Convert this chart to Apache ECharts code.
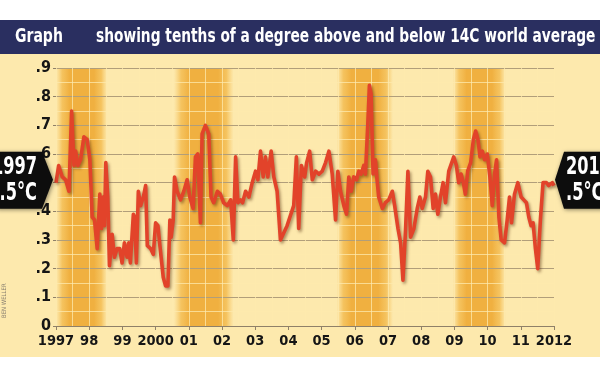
<!DOCTYPE html>
<html><head><meta charset="utf-8">
<script src="https://cdn.jsdelivr.net/npm/echarts/dist/echarts.min.js"></script>
<style>html,body{margin:0;padding:0;background:#fff}#c{width:600px;height:374px}</style>
</head><body><div id="c"></div>
<script>
const titleLead = 'Graph';
const titleText = 'showing tenths of a degree above and below 14C world average';
const startLabel = ['1997', '.5°C'];
const endLabel = ['2012', '.5°C'];
const credit = 'BEN WELLER';
const xTickLabels = ['1997','98','99','2000','01','02','03','04','05','06','07','08','09','10','11','2012'];
const yTickLabels = ['0','.1','.2','.3','.4','.5','.6','.7','.8','.9'];
const bands = [[1996.95, 1998.55], [2000.55, 2002.35], [2005.45, 2007.15], [2008.95, 2010.55]];
const years = [
1997.00,1997.08,1997.19,1997.29,1997.39,1997.47,1997.54,1997.59,1997.66,1997.74,
1997.84,1997.94,1998.02,1998.09,1998.16,1998.24,1998.32,1998.37,1998.42,1998.46,
1998.50,1998.56,1998.61,1998.69,1998.76,1998.84,1998.92,1998.99,1999.06,1999.14,
1999.19,1999.24,1999.33,1999.37,1999.42,1999.48,1999.55,1999.63,1999.70,1999.75,
1999.85,1999.93,2000.00,2000.07,2000.13,2000.23,2000.30,2000.37,2000.43,2000.47,
2000.53,2000.57,2000.65,2000.75,2000.85,2000.95,2001.03,
2001.13,2001.20,2001.27,2001.35,2001.40,2001.50,2001.60,2001.67,2001.75,2001.86,
2001.95,2002.05,2002.16,2002.26,2002.34,2002.41,2002.48,2002.56,2002.62,2002.71,
2002.81,2002.91,2003.01,2003.08,2003.16,2003.24,2003.31,2003.38,2003.48,2003.56,
2003.66,2003.76,2003.96,2004.16,2004.24,2004.31,2004.39,2004.49,2004.55,2004.64,
2004.72,2004.82,2004.92,2005.02,2005.12,2005.22,
2005.32,2005.42,2005.49,2005.57,2005.67,2005.75,2005.82,2005.89,2005.97,2006.05,
2006.12,2006.19,2006.27,2006.32,2006.39,2006.44,2006.49,2006.55,2006.62,2006.67,
2006.72,2006.83,2006.92,2007.02,2007.13,2007.20,2007.30,2007.38,2007.45,2007.53,
2007.60,2007.68,2007.78,2007.88,2007.96,2008.03,2008.13,2008.20,2008.28,2008.36,
2008.43,2008.50,2008.58,2008.66,2008.73,2008.83,
2008.88,2008.98,2009.06,2009.13,2009.20,2009.27,2009.33,2009.40,2009.49,2009.57,
2009.64,2009.71,2009.77,2009.84,2009.91,2009.99,2010.07,2010.14,2010.21,2010.27,
2010.34,2010.41,2010.51,2010.59,2010.66,2010.72,2010.81,2010.91,2011.01,2011.09,
2011.17,2011.24,2011.31,2011.37,2011.44,2011.51,2011.59,2011.67,2011.77,2011.84,
2011.95,2012.00
];
const values = [
0.50,0.56,0.52,0.51,0.47,0.75,0.56,0.61,0.56,0.58,
0.66,0.65,0.58,0.38,0.37,0.27,0.46,0.34,0.45,0.35,
0.57,0.45,0.21,0.32,0.24,0.27,0.27,0.22,0.29,0.24,
0.29,0.22,0.39,0.38,0.22,0.47,0.42,0.45,0.49,0.28,
0.27,0.25,0.36,0.35,0.28,0.17,0.14,0.14,0.37,0.31,
0.37,0.52,0.47,0.44,0.47,0.51,0.45,
0.41,0.59,0.60,0.36,0.67,0.70,0.67,0.45,0.43,0.47,
0.46,0.43,0.42,0.44,0.30,0.59,0.43,0.44,0.43,0.47,
0.45,0.50,0.54,0.51,0.61,0.52,0.59,0.52,0.61,0.52,
0.47,0.30,0.35,0.42,0.59,0.34,0.56,0.52,0.57,0.61,
0.51,0.54,0.53,0.54,0.57,0.61,
0.53,0.37,0.54,0.47,0.42,0.39,0.52,0.47,0.52,0.51,
0.54,0.53,0.56,0.53,0.70,0.84,0.81,0.53,0.58,0.51,
0.45,0.41,0.43,0.44,0.47,0.42,0.34,0.29,0.16,0.34,
0.54,0.31,0.34,0.41,0.45,0.41,0.45,0.54,0.52,0.41,
0.46,0.39,0.45,0.50,0.43,0.54,
0.54,0.59,0.56,0.50,0.53,0.50,0.46,0.54,0.57,0.65,
0.68,0.65,0.59,0.61,0.58,0.60,0.52,0.42,0.53,0.58,
0.38,0.30,0.29,0.37,0.45,0.36,0.46,0.50,0.45,0.44,
0.43,0.38,0.35,0.36,0.27,0.20,0.37,0.50,0.50,0.49,
0.50,0.49
];

const FONT = "'Liberation Sans Narrow','DejaVu Sans Condensed','Liberation Sans',Arial,sans-serif";
const chart = echarts.init(document.getElementById('c'), null, {renderer: 'canvas'});
const lineData = years.map((y, i) => [y, values[i]]);
const bandGrad = {
  type: 'linear', x: 0, y: 0, x2: 1, y2: 0,
  colorStops: [
    {offset: 0, color: 'rgba(246,196,95,0)'},
    {offset: 0.12, color: 'rgba(243,186,76,0.8)'},
    {offset: 0.26, color: '#f0b040'},
    {offset: 0.74, color: '#f0b040'},
    {offset: 0.88, color: 'rgba(243,186,76,0.8)'},
    {offset: 1, color: 'rgba(246,196,95,0)'}
  ]
};
const lightLine = {color: 'rgba(253,233,173,0.75)', width: 1, type: 'solid'};
chart.setOption({
  backgroundColor: '#ffffff',
  animation: false,
  grid: {left: 56, right: 46, top: 68, bottom: 48, containLabel: false, outerBoundsMode: 'none'},
  xAxis: {
    type: 'value', min: 1997, max: 2012, interval: 1, z: 0,
    axisLine: {show: true, lineStyle: {color: '#8f8068', width: 1, type: 'solid'}},
    axisTick: {show: true, length: 4, lineStyle: {color: '#8f8068', type: 'solid'}},
    axisLabel: {
      margin: 8, color: '#151515', fontSize: 14.5, fontWeight: 'bold', fontFamily: FONT,
      formatter: v => xTickLabels[Math.round(v - 1997)]
    },
    splitLine: {show: true, lineStyle: lightLine},
    minorTick: {show: false, splitNumber: 2},
    minorSplitLine: {show: true, lineStyle: lightLine}
  },
  yAxis: {
    type: 'value', min: 0, max: 0.9, interval: 0.1, z: 0,
    axisLine: {show: false},
    axisTick: {show: true, length: 3, lineStyle: {color: '#8f8068', type: 'solid'}},
    axisLabel: {
      margin: 5, color: '#151515', fontSize: 16, fontWeight: 'bold', fontFamily: FONT,
      formatter: v => yTickLabels[Math.round(v * 10)]
    },
    splitLine: {show: true, lineStyle: {color: '#b19e7a', width: 1, type: 'solid'}},
    minorTick: {show: false, splitNumber: 2},
    minorSplitLine: {show: true, lineStyle: lightLine}
  },
  series: [
    {
      type: 'line', z: -2, silent: true, data: lineData, showSymbol: false,
      lineStyle: {opacity: 0},
      markArea: {
        z: -2,
        silent: true,
        itemStyle: {color: bandGrad},
        data: bands.map(b => [{xAxis: b[0], yAxis: 0}, {xAxis: b[1], yAxis: 0.9}])
      }
    },
    {
      type: 'line', z: 3, data: lineData, showSymbol: false, symbol: 'none',
      lineStyle: {
        color: '#e2432a', width: 3.6, join: 'round', type: 'solid',
        shadowColor: 'rgba(70,30,0,0.45)', shadowBlur: 3, shadowOffsetX: 1.5, shadowOffsetY: 2
      }
    }
  ]
});

const p0 = chart.convertToPixel({gridIndex: 0}, [1997, 0.5]);
const p1 = chart.convertToPixel({gridIndex: 0}, [2012, 0.5]);
const ty0 = p0[1] - 3, ty1 = p1[1] - 3;
const tipL = p0[0] - 3, tipR = p1[0] + 1;
function label(text, x, y, align) {
  return {type: 'text', z: 13, silent: true, x: x, y: y, scaleX: 0.72,
    style: {text: text, x: 0, y: 0, fill: '#fff', font: 'bold 25px ' + FONT, align: align, verticalAlign: 'middle'}};
}
chart.setOption({
  graphic: [
    {type: 'rect', z: -10, silent: true, shape: {x: 0, y: 53, width: 600, height: 304}, style: {fill: '#fde9ad'}},
    {type: 'rect', z: 10, silent: true, shape: {x: 0, y: 20, width: 600, height: 34}, style: {fill: '#2a2f60'}},
    {type: 'text', z: 11, silent: true, x: 15, y: 37, scaleX: 0.82,
      style: {text: titleLead, x: 0, y: 0, fill: '#ffffff', font: 'bold 19px ' + FONT, verticalAlign: 'middle'}},
    {type: 'text', z: 11, silent: true, x: 96, y: 37, scaleX: 0.805,
      style: {text: titleText, x: 0, y: 0, fill: '#ffffff', font: 'bold 19px ' + FONT, verticalAlign: 'middle'}},
    {type: 'polygon', z: 12, silent: true,
      shape: {points: [[-4, ty0 - 28], [tipL - 11, ty0 - 28], [tipL, ty0], [tipL - 11, ty0 + 29], [-4, ty0 + 29]]},
      style: {fill: '#0d0d0d', shadowColor: 'rgba(0,0,0,0.45)', shadowBlur: 4, shadowOffsetX: 1, shadowOffsetY: 1}},
    label(startLabel[0], 37, ty0 - 12, 'right'),
    label(startLabel[1], 37, ty0 + 14, 'right'),
    {type: 'polygon', z: 12, silent: true,
      shape: {points: [[604, ty1 - 28], [tipR + 9, ty1 - 28], [tipR, ty1], [tipR + 9, ty1 + 29], [604, ty1 + 29]]},
      style: {fill: '#0d0d0d', shadowColor: 'rgba(0,0,0,0.45)', shadowBlur: 4, shadowOffsetX: 1, shadowOffsetY: 1}},
    label(endLabel[0], 566, ty1 - 12, 'left'),
    label(endLabel[1], 566, ty1 + 14, 'left'),
    {type: 'text', z: 13, silent: true, rotation: Math.PI / 2, x: 4, y: 318,
      style: {text: credit, x: 0, y: 0, fill: '#8a8070', font: '6px ' + FONT, align: 'left', verticalAlign: 'middle'}}
  ]
});
</script>
</body></html>
